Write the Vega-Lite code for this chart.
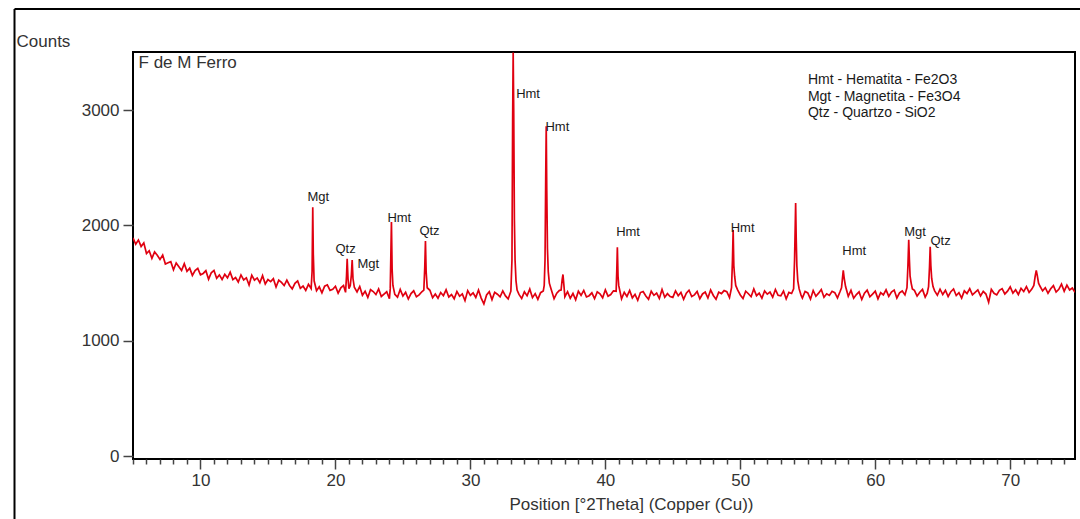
{
"$schema": "https://vega.github.io/schema/vega-lite/v6.json",
"width": 942, "height": 407,
"autosize": {"type": "none"},
"padding": {"left": 133, "top": 52, "right": 5, "bottom": 60},
"background": "white",
"config": {"view": {"stroke": "#000", "strokeWidth": 2}, "font": "Liberation Sans"},
"datasets": {
"xrd": [
{"t":5.0,"c":1892},{"t":5.2,"c":1837},{"t":5.4,"c":1874},{"t":5.6,"c":1818},{"t":5.8,"c":1849},{"t":6.0,"c":1757},{"t":6.2,"c":1781},{"t":6.4,"c":1715},{"t":6.6,"c":1770},{"t":6.8,"c":1742},
{"t":7.0,"c":1705},{"t":7.2,"c":1743},{"t":7.4,"c":1666},{"t":7.6,"c":1676},{"t":7.8,"c":1686},{"t":8.0,"c":1615},{"t":8.2,"c":1674},{"t":8.4,"c":1642},{"t":8.6,"c":1609},{"t":8.8,"c":1668},
{"t":9.0,"c":1603},{"t":9.2,"c":1630},{"t":9.4,"c":1567},{"t":9.6,"c":1609},{"t":9.8,"c":1628},{"t":10.0,"c":1572},{"t":10.2,"c":1584},{"t":10.4,"c":1608},{"t":10.6,"c":1534},{"t":10.8,"c":1590},
{"t":11.0,"c":1610},{"t":11.2,"c":1542},{"t":11.4,"c":1571},{"t":11.6,"c":1531},{"t":11.8,"c":1577},{"t":12.0,"c":1546},{"t":12.2,"c":1595},{"t":12.4,"c":1530},{"t":12.6,"c":1549},{"t":12.8,"c":1510},
{"t":13.0,"c":1571},{"t":13.2,"c":1527},{"t":13.4,"c":1546},{"t":13.6,"c":1484},{"t":13.8,"c":1569},{"t":14.0,"c":1526},{"t":14.2,"c":1545},{"t":14.4,"c":1503},{"t":14.6,"c":1565},{"t":14.8,"c":1492},
{"t":15.0,"c":1531},{"t":15.2,"c":1513},{"t":15.4,"c":1539},{"t":15.6,"c":1466},{"t":15.8,"c":1526},{"t":16.0,"c":1506},{"t":16.2,"c":1479},{"t":16.4,"c":1526},{"t":16.6,"c":1480},{"t":16.8,"c":1450},
{"t":17.0,"c":1498},{"t":17.2,"c":1519},{"t":17.4,"c":1455},{"t":17.6,"c":1474},{"t":17.8,"c":1436},{"t":18.0,"c":1489},{"t":18.2,"c":1453},{"t":18.27,"c":1600},{"t":18.32,"c":2157},{"t":18.36,"c":1750},
{"t":18.42,"c":1520},{"t":18.6,"c":1434},{"t":18.8,"c":1468},{"t":19.0,"c":1416},{"t":19.2,"c":1473},{"t":19.4,"c":1485},{"t":19.6,"c":1437},{"t":19.8,"c":1447},{"t":20.0,"c":1473},{"t":20.2,"c":1413},
{"t":20.4,"c":1459},{"t":20.6,"c":1480},{"t":20.75,"c":1420},{"t":20.82,"c":1560},{"t":20.87,"c":1710},{"t":20.93,"c":1540},{"t":21.0,"c":1451},{"t":21.1,"c":1480},{"t":21.18,"c":1570},{"t":21.24,"c":1700},
{"t":21.3,"c":1540},{"t":21.4,"c":1464},{"t":21.6,"c":1424},{"t":21.8,"c":1471},{"t":22.0,"c":1395},{"t":22.2,"c":1430},{"t":22.4,"c":1376},{"t":22.6,"c":1443},{"t":22.8,"c":1427},{"t":23.0,"c":1401},
{"t":23.2,"c":1450},{"t":23.4,"c":1384},{"t":23.6,"c":1405},{"t":23.8,"c":1425},{"t":24.0,"c":1365},{"t":24.06,"c":1450},{"t":24.1,"c":1700},{"t":24.15,"c":2030},{"t":24.2,"c":1620},{"t":24.26,"c":1480},
{"t":24.4,"c":1403},{"t":24.6,"c":1378},{"t":24.8,"c":1445},{"t":25.0,"c":1388},{"t":25.2,"c":1420},{"t":25.4,"c":1362},{"t":25.6,"c":1409},{"t":25.8,"c":1433},{"t":26.0,"c":1382},{"t":26.2,"c":1398},
{"t":26.4,"c":1425},{"t":26.55,"c":1440},{"t":26.62,"c":1640},{"t":26.67,"c":1865},{"t":26.72,"c":1600},{"t":26.8,"c":1460},{"t":27.0,"c":1438},{"t":27.2,"c":1373},{"t":27.4,"c":1406},{"t":27.6,"c":1369},
{"t":27.8,"c":1419},{"t":28.0,"c":1391},{"t":28.2,"c":1442},{"t":28.4,"c":1380},{"t":28.6,"c":1401},{"t":28.8,"c":1364},{"t":29.0,"c":1428},{"t":29.2,"c":1386},{"t":29.4,"c":1407},{"t":29.6,"c":1348},
{"t":29.8,"c":1435},{"t":30.0,"c":1394},{"t":30.2,"c":1416},{"t":30.4,"c":1376},{"t":30.6,"c":1440},{"t":30.8,"c":1370},{"t":31.0,"c":1320},{"t":31.2,"c":1397},{"t":31.4,"c":1426},{"t":31.6,"c":1357},
{"t":31.8,"c":1421},{"t":32.0,"c":1404},{"t":32.2,"c":1381},{"t":32.4,"c":1432},{"t":32.6,"c":1389},{"t":32.8,"c":1363},{"t":33.0,"c":1430},{"t":33.08,"c":1700},{"t":33.13,"c":2900},{"t":33.17,"c":3500},
{"t":33.21,"c":3000},{"t":33.26,"c":2050},{"t":33.31,"c":1700},{"t":33.38,"c":1520},{"t":33.46,"c":1440},{"t":33.6,"c":1402},{"t":33.8,"c":1367},{"t":34.0,"c":1424},{"t":34.2,"c":1390},{"t":34.4,"c":1448},
{"t":34.6,"c":1374},{"t":34.8,"c":1409},{"t":35.0,"c":1359},{"t":35.2,"c":1417},{"t":35.4,"c":1431},{"t":35.47,"c":1480},{"t":35.53,"c":1700},{"t":35.58,"c":2400},{"t":35.62,"c":2860},{"t":35.66,"c":2300},
{"t":35.71,"c":1800},{"t":35.77,"c":1600},{"t":35.85,"c":1500},{"t":35.95,"c":1460},{"t":36.2,"c":1365},{"t":36.4,"c":1413},{"t":36.6,"c":1437},{"t":36.72,"c":1440},{"t":36.8,"c":1530},{"t":36.86,"c":1575},
{"t":36.93,"c":1480},{"t":37.0,"c":1382},{"t":37.2,"c":1426},{"t":37.4,"c":1369},{"t":37.6,"c":1410},{"t":37.8,"c":1356},{"t":38.0,"c":1429},{"t":38.2,"c":1394},{"t":38.4,"c":1437},{"t":38.6,"c":1380},
{"t":38.8,"c":1391},{"t":39.0,"c":1416},{"t":39.2,"c":1365},{"t":39.4,"c":1424},{"t":39.6,"c":1407},{"t":39.8,"c":1373},{"t":40.0,"c":1442},{"t":40.2,"c":1387},{"t":40.4,"c":1401},{"t":40.6,"c":1433},
{"t":40.8,"c":1430},{"t":40.85,"c":1620},{"t":40.89,"c":1810},{"t":40.94,"c":1560},{"t":40.99,"c":1480},{"t":41.2,"c":1363},{"t":41.4,"c":1421},{"t":41.6,"c":1385},{"t":41.8,"c":1436},{"t":42.0,"c":1372},
{"t":42.2,"c":1403},{"t":42.4,"c":1351},{"t":42.6,"c":1418},{"t":42.8,"c":1427},{"t":43.0,"c":1389},{"t":43.2,"c":1360},{"t":43.4,"c":1430},{"t":43.6,"c":1394},{"t":43.8,"c":1414},{"t":44.0,"c":1367},
{"t":44.2,"c":1445},{"t":44.4,"c":1378},{"t":44.6,"c":1409},{"t":44.8,"c":1383},{"t":45.0,"c":1376},{"t":45.2,"c":1433},{"t":45.4,"c":1391},{"t":45.6,"c":1419},{"t":45.8,"c":1359},{"t":46.0,"c":1412},
{"t":46.2,"c":1438},{"t":46.4,"c":1384},{"t":46.6,"c":1398},{"t":46.8,"c":1427},{"t":47.0,"c":1365},{"t":47.2,"c":1406},{"t":47.4,"c":1422},{"t":47.6,"c":1371},{"t":47.8,"c":1441},{"t":48.0,"c":1393},
{"t":48.2,"c":1360},{"t":48.4,"c":1422},{"t":48.6,"c":1409},{"t":48.8,"c":1435},{"t":49.0,"c":1426},{"t":49.2,"c":1375},{"t":49.35,"c":1460},{"t":49.42,"c":1700},{"t":49.47,"c":1960},{"t":49.52,"c":1650},
{"t":49.58,"c":1560},{"t":49.66,"c":1480},{"t":49.8,"c":1441},{"t":50.0,"c":1397},{"t":50.2,"c":1366},{"t":50.4,"c":1430},{"t":50.6,"c":1408},{"t":50.8,"c":1382},{"t":51.0,"c":1449},{"t":51.2,"c":1391},
{"t":51.4,"c":1414},{"t":51.6,"c":1369},{"t":51.8,"c":1433},{"t":52.0,"c":1404},{"t":52.2,"c":1422},{"t":52.4,"c":1378},{"t":52.6,"c":1444},{"t":52.8,"c":1394},{"t":53.0,"c":1390},{"t":53.2,"c":1432},
{"t":53.4,"c":1363},{"t":53.6,"c":1419},{"t":53.8,"c":1410},{"t":53.95,"c":1450},{"t":54.02,"c":1700},{"t":54.07,"c":2000},{"t":54.1,"c":2195},{"t":54.14,"c":1900},{"t":54.19,"c":1650},{"t":54.26,"c":1520},
{"t":54.36,"c":1450},{"t":54.5,"c":1396},{"t":54.6,"c":1370},{"t":54.8,"c":1427},{"t":55.0,"c":1415},{"t":55.2,"c":1361},{"t":55.4,"c":1436},{"t":55.6,"c":1386},{"t":55.8,"c":1413},{"t":56.0,"c":1445},
{"t":56.2,"c":1377},{"t":56.4,"c":1407},{"t":56.6,"c":1393},{"t":56.8,"c":1429},{"t":57.0,"c":1417},{"t":57.2,"c":1372},{"t":57.4,"c":1429},{"t":57.5,"c":1460},{"t":57.56,"c":1530},{"t":57.63,"c":1610},
{"t":57.7,"c":1540},{"t":57.8,"c":1470},{"t":58.0,"c":1386},{"t":58.2,"c":1437},{"t":58.4,"c":1369},{"t":58.6,"c":1401},{"t":58.8,"c":1424},{"t":59.0,"c":1358},{"t":59.2,"c":1412},{"t":59.4,"c":1439},
{"t":59.6,"c":1381},{"t":59.8,"c":1405},{"t":60.0,"c":1430},{"t":60.2,"c":1364},{"t":60.4,"c":1418},{"t":60.6,"c":1397},{"t":60.8,"c":1442},{"t":61.0,"c":1385},{"t":61.2,"c":1423},{"t":61.4,"c":1440},
{"t":61.6,"c":1371},{"t":61.8,"c":1415},{"t":62.0,"c":1432},{"t":62.2,"c":1398},{"t":62.35,"c":1460},{"t":62.42,"c":1650},{"t":62.48,"c":1875},{"t":62.53,"c":1700},{"t":62.58,"c":1560},{"t":62.66,"c":1500},
{"t":62.75,"c":1450},{"t":62.9,"c":1437},{"t":63.1,"c":1388},{"t":63.3,"c":1421},{"t":63.5,"c":1446},{"t":63.7,"c":1379},{"t":63.85,"c":1412},{"t":63.95,"c":1470},{"t":64.02,"c":1640},{"t":64.07,"c":1815},
{"t":64.12,"c":1650},{"t":64.18,"c":1540},{"t":64.28,"c":1470},{"t":64.4,"c":1433},{"t":64.6,"c":1395},{"t":64.8,"c":1447},{"t":65.0,"c":1401},{"t":65.2,"c":1438},{"t":65.4,"c":1384},{"t":65.6,"c":1426},
{"t":65.8,"c":1449},{"t":66.0,"c":1392},{"t":66.2,"c":1417},{"t":66.4,"c":1370},{"t":66.6,"c":1433},{"t":66.8,"c":1410},{"t":67.0,"c":1452},{"t":67.2,"c":1398},{"t":67.4,"c":1420},{"t":67.6,"c":1441},
{"t":67.8,"c":1389},{"t":68.0,"c":1429},{"t":68.2,"c":1405},{"t":68.4,"c":1335},{"t":68.6,"c":1446},{"t":68.8,"c":1412},{"t":69.0,"c":1398},{"t":69.2,"c":1437},{"t":69.4,"c":1452},{"t":69.6,"c":1406},
{"t":69.8,"c":1430},{"t":70.0,"c":1468},{"t":70.2,"c":1414},{"t":70.4,"c":1442},{"t":70.6,"c":1401},{"t":70.8,"c":1455},{"t":71.0,"c":1427},{"t":71.2,"c":1470},{"t":71.4,"c":1419},{"t":71.6,"c":1448},
{"t":71.75,"c":1480},{"t":71.85,"c":1560},{"t":71.93,"c":1610},{"t":72.0,"c":1570},{"t":72.1,"c":1500},{"t":72.2,"c":1475},{"t":72.4,"c":1433},{"t":72.6,"c":1460},{"t":72.8,"c":1412},{"t":73.0,"c":1451},
{"t":73.2,"c":1478},{"t":73.4,"c":1423},{"t":73.6,"c":1446},{"t":73.8,"c":1491},{"t":74.0,"c":1430},{"t":74.2,"c":1482},{"t":74.4,"c":1441},{"t":74.6,"c":1458},{"t":74.8,"c":1420}
],
"peaks": [
{"t":17.93,"c":2246,"lab":"Mgt"},{"t":20.0,"c":1795,"lab":"Qtz"},{"t":21.63,"c":1665,"lab":"Mgt"},{"t":23.85,"c":2064,"lab":"Hmt"},{"t":26.22,"c":1951,"lab":"Qtz"},
{"t":33.39,"c":3137,"lab":"Hmt"},{"t":35.56,"c":2856,"lab":"Hmt"},{"t":40.8,"c":1945,"lab":"Hmt"},{"t":49.29,"c":1982,"lab":"Hmt"},{"t":57.56,"c":1781,"lab":"Hmt"},
{"t":62.15,"c":1940,"lab":"Mgt"},{"t":64.09,"c":1862,"lab":"Qtz"}
],
"key": [
{"t":55.01,"c":3261,"lab":"Hmt - Hematita - Fe2O3"},{"t":55.01,"c":3116,"lab":"Mgt - Magnetita - Fe3O4"},{"t":55.01,"c":2972,"lab":"Qtz - Quartzo - SiO2"}
],
"sample": [{"t":5.41,"c":3411,"lab":"F de M Ferro"}],
"frame": [
{"t":-3.78,"c":3877,"t2":-3.78,"c2":-642},
{"t":-3.78,"c":3877,"t2":75.93,"c2":3877}
]
},
"encoding": {
"x": {"field": "t", "type": "quantitative",
 "scale": {"domain": [5, 74.8], "nice": false, "zero": false},
 "axis": {
  "values": [5,6,7,8,9,10,11,12,13,14,15,16,17,18,19,20,21,22,23,24,25,26,27,28,29,30,31,32,33,34,35,36,37,38,39,40,41,42,43,44,45,46,47,48,49,50,51,52,53,54,55,56,57,58,59,60,61,62,63,64,65,66,67,68,69,70,71,72,73,74],
  "labelExpr": "datum.value % 10 === 0 ? datum.label : ''",
  "tickSize": {"condition": {"test": "datum.value % 10 === 0", "value": 10}, "value": 5},
  "tickColor": "#444", "tickWidth": 1.5, "domain": false, "grid": false,
  "labelFontSize": 17, "labelColor": "#333", "labelPadding": 3, "labelOverlap": false, "labelFlush": false,
  "title": "Position [°2Theta] (Copper (Cu))", "titleFontSize": 17, "titleFontWeight": "normal", "titleColor": "#333",
  "titleX": 498, "titleY": 45, "titleAlign": "center", "titleBaseline": "middle"
 }},
"y": {"field": "c", "type": "quantitative",
 "scale": {"domain": [-25, 3504], "nice": false, "zero": false},
 "axis": {
  "values": [0, 1000, 2000, 3000], "format": "d", "tickSize": 10, "tickColor": "#444", "tickWidth": 1.5, "domain": false, "grid": false,
  "labelFontSize": 17, "labelColor": "#333", "labelPadding": 4,
  "title": "Counts", "titleAngle": 0, "titleX": -117, "titleY": -11, "titleAlign": "left", "titleBaseline": "middle",
  "titleFontSize": 17, "titleFontWeight": "normal", "titleColor": "#333"
 }}
},
"layer": [
{"data": {"name": "xrd"}, "mark": {"type": "line", "color": "#e00010", "strokeWidth": 1.7, "clip": true}},
{"data": {"name": "peaks"}, "mark": {"type": "text", "align": "left", "baseline": "middle", "fontSize": 13, "color": "#1a1a1a"}, "encoding": {"text": {"field": "lab"}}},
{"data": {"name": "key"}, "mark": {"type": "text", "align": "left", "baseline": "middle", "fontSize": 14, "color": "#1a1a1a"}, "encoding": {"text": {"field": "lab"}}},
{"data": {"name": "sample"}, "mark": {"type": "text", "align": "left", "baseline": "middle", "fontSize": 17, "color": "#333"}, "encoding": {"text": {"field": "lab"}}},
{"data": {"name": "frame"}, "mark": {"type": "rule", "color": "#000", "strokeWidth": 2, "clip": false}, "encoding": {"x2": {"field": "t2"}, "y2": {"field": "c2"}}}
]
}
